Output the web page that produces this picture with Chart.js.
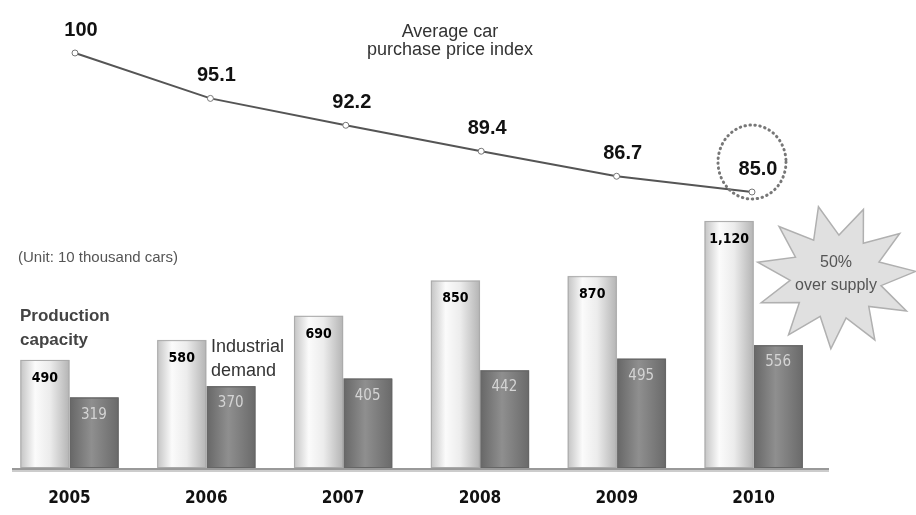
<!DOCTYPE html>
<html>
<head>
<meta charset="utf-8">
<script src="https://cdn.jsdelivr.net/npm/chart.js@4.4.1/dist/chart.umd.min.js"></script>
<style>
    body { margin: 0; background: #fff; }
    #wrap { width: 916px; height: 515px; position: relative; }
</style>
</head>
<body>
<div id="wrap"><canvas id="carChart"></canvas></div>
<script>
// datos
const years = ['2005', '2006', '2007', '2008', '2009', '2010'];
const capacity = [490, 580, 690, 850, 870, 1120];
const capacityLabels = ['490', '580', '690', '850', '870', '1,120'];
const demand = [319, 370, 405, 442, 495, 556];
const priceIndex = [100, 95.1, 92.2, 89.4, 86.7, 85.0];
const priceLabels = ['100', '95.1', '92.2', '89.4', '86.7', '85.0'];

const SANS = '"Liberation Sans", Arial, sans-serif';
const NARROW = '"DejaVu Sans Condensed", "Liberation Sans Narrow", sans-serif';

function barGradient(ctx, left, w, dark) {
    const g = ctx.createLinearGradient(left, 0, left + w, 0);
    if (dark) {
        g.addColorStop(0, '#666');
        g.addColorStop(0.45, '#8f8f8f');
        g.addColorStop(1, '#6a6a6a');
    } else {
        g.addColorStop(0, '#c4c4c4');
        g.addColorStop(0.3, '#fbfbfb');
        g.addColorStop(0.6, '#ececec');
        g.addColorStop(1, '#b4b4b4');
    }
    return g;
}

// dibuja degradados, etiquetas y notas
const decorPlugin = {
    id: 'decor',
    afterDatasetDraw(chart, args) {
        const ds = chart.data.datasets[args.index];
        if (ds.type !== 'bar') return;
        const ctx = chart.ctx;
        const dark = ds.id === 'demand';
        args.meta.data.forEach(el => {
            const p = el.getProps(['x', 'y', 'base', 'width'], true);
            const left = p.x - p.width / 2;
            ctx.save();
            ctx.fillStyle = barGradient(ctx, left, p.width, dark);
            ctx.fillRect(left, p.y, p.width, p.base - p.y);
            ctx.strokeStyle = dark ? '#666' : '#aaa';
            ctx.lineWidth = 1;
            ctx.strokeRect(left + 0.5, p.y + 0.5, p.width - 1, p.base - p.y - 1);
            ctx.restore();
        });
    },
    afterDatasetsDraw(chart) {
        const ctx = chart.ctx;
        const x = chart.scales.x;
        const area = chart.chartArea;

        // línea base
        ctx.save();
        ctx.strokeStyle = '#ccc';
        ctx.lineWidth = 2;
        ctx.beginPath(); ctx.moveTo(12, area.bottom + 3); ctx.lineTo(829, area.bottom + 3); ctx.stroke();
        ctx.strokeStyle = '#777';
        ctx.lineWidth = 1.5;
        ctx.beginPath(); ctx.moveTo(12, area.bottom + 1); ctx.lineTo(829, area.bottom + 1); ctx.stroke();

        ctx.textAlign = 'center';
        ctx.textBaseline = 'middle';

        // años
        ctx.fillStyle = '#111';
        ctx.font = 'bold 17px ' + NARROW;
        years.forEach((y, i) => ctx.fillText(y, x.getPixelForValue(i), area.bottom + 31));

        // valores de barras
        const capMeta = chart.getDatasetMeta(1);
        const demMeta = chart.getDatasetMeta(2);
        ctx.font = 'bold 14px ' + NARROW;
        ctx.fillStyle = '#000';
        capMeta.data.forEach((el, i) => ctx.fillText(capacityLabels[i], el.x, el.y + 18));
        ctx.font = '15px ' + NARROW;
        ctx.fillStyle = '#d4d4d4';
        demMeta.data.forEach((el, i) => ctx.fillText(String(demand[i]), el.x, el.y + 17));

        // valores del índice
        const lineMeta = chart.getDatasetMeta(0);
        ctx.font = 'bold 20px ' + SANS;
        ctx.fillStyle = '#111';
        lineMeta.data.forEach((el, i) => ctx.fillText(priceLabels[i], el.x + 6, el.y - 23));

        // círculo punteado en 2010
        const last = lineMeta.data[lineMeta.data.length - 1];
        ctx.strokeStyle = '#777';
        ctx.lineWidth = 3;
        ctx.lineCap = 'round';
        ctx.setLineDash([0.5, 4.5]);
        ctx.beginPath();
        ctx.ellipse(last.x, last.y - 30, 34, 37, 0, 0, Math.PI * 2);
        ctx.stroke();
        ctx.setLineDash([]);

        // estrella de sobreoferta
        const cx = 836, cy = 277, spikes = 11;
        ctx.beginPath();
        for (let k = 0; k < spikes * 2; k++) {
            const ang = -Math.PI / 2 + 0.35 + k * Math.PI / spikes;
            const rx = k % 2 === 0 ? 80 : 46;
            const ry = k % 2 === 0 ? 72 : 42;
            const px = cx + Math.cos(ang) * rx;
            const py = cy + Math.sin(ang) * ry;
            if (k === 0) ctx.moveTo(px, py); else ctx.lineTo(px, py);
        }
        ctx.closePath();
        ctx.fillStyle = '#e0e0e0';
        ctx.fill();
        ctx.strokeStyle = '#b0b0b0';
        ctx.lineWidth = 1.5;
        ctx.stroke();
        ctx.fillStyle = '#555';
        ctx.font = '16px ' + SANS;
        ctx.fillText('50%', cx, cy - 14);
        ctx.fillText('over supply', cx, cy + 9);

        // textos
        ctx.fillStyle = '#333';
        ctx.font = '18px ' + SANS;
        ctx.fillText('Average car', 450, 32);
        ctx.fillText('purchase price index', 450, 50);

        ctx.textAlign = 'left';
        ctx.fillStyle = '#555';
        ctx.font = '15px ' + SANS;
        ctx.fillText('(Unit: 10 thousand cars)', 18, 258);

        ctx.fillStyle = '#444';
        ctx.font = 'bold 17px ' + SANS;
        ctx.fillText('Production', 20, 316);
        ctx.fillText('capacity', 20, 340);

        ctx.fillStyle = '#333';
        ctx.font = '18px ' + SANS;
        ctx.fillText('Industrial', 211, 347);
        ctx.fillText('demand', 211, 371);
        ctx.restore();
    }
};

function initChart() {
    const ctx = document.getElementById('carChart').getContext('2d');
    new Chart(ctx, {
        data: {
            labels: years,
            datasets: [
                {
                    type: 'line',
                    id: 'price',
                    data: priceIndex,
                    xAxisID: 'xLine',
                    yAxisID: 'yLine',
                    borderColor: '#555',
                    borderWidth: 2,
                    pointRadius: 3,
                    pointBackgroundColor: '#fff',
                    pointBorderColor: '#777',
                    pointBorderWidth: 1,
                    tension: 0
                },
                {
                    type: 'bar',
                    id: 'capacity',
                    data: capacity,
                    yAxisID: 'yBar',
                    backgroundColor: '#eee',
                    barThickness: 49
                },
                {
                    type: 'bar',
                    id: 'demand',
                    data: demand,
                    yAxisID: 'yBar',
                    backgroundColor: '#7c7c7c',
                    barThickness: 49
                }
            ]
        },
        options: {
            responsive: true,
            maintainAspectRatio: false,
            animation: false,
            layout: { autoPadding: false, padding: { left: 1, right: 94, top: 20, bottom: 47 } },
            scales: {
                x: { display: false, offset: true },
                // la línea del índice va un poco desplazada respecto a las barras
                xLine: { type: 'linear', display: false, min: 2004.4535, max: 2010.517 },
                yBar: { display: false, min: 0, max: 2032 },
                yLine: { display: false, min: 55.22, max: 103.56 }
            },
            plugins: {
                legend: { display: false },
                tooltip: { enabled: false }
            }
        },
        plugins: [decorPlugin]
    });
}

document.addEventListener('DOMContentLoaded', initChart);
</script>
</body>
</html>
